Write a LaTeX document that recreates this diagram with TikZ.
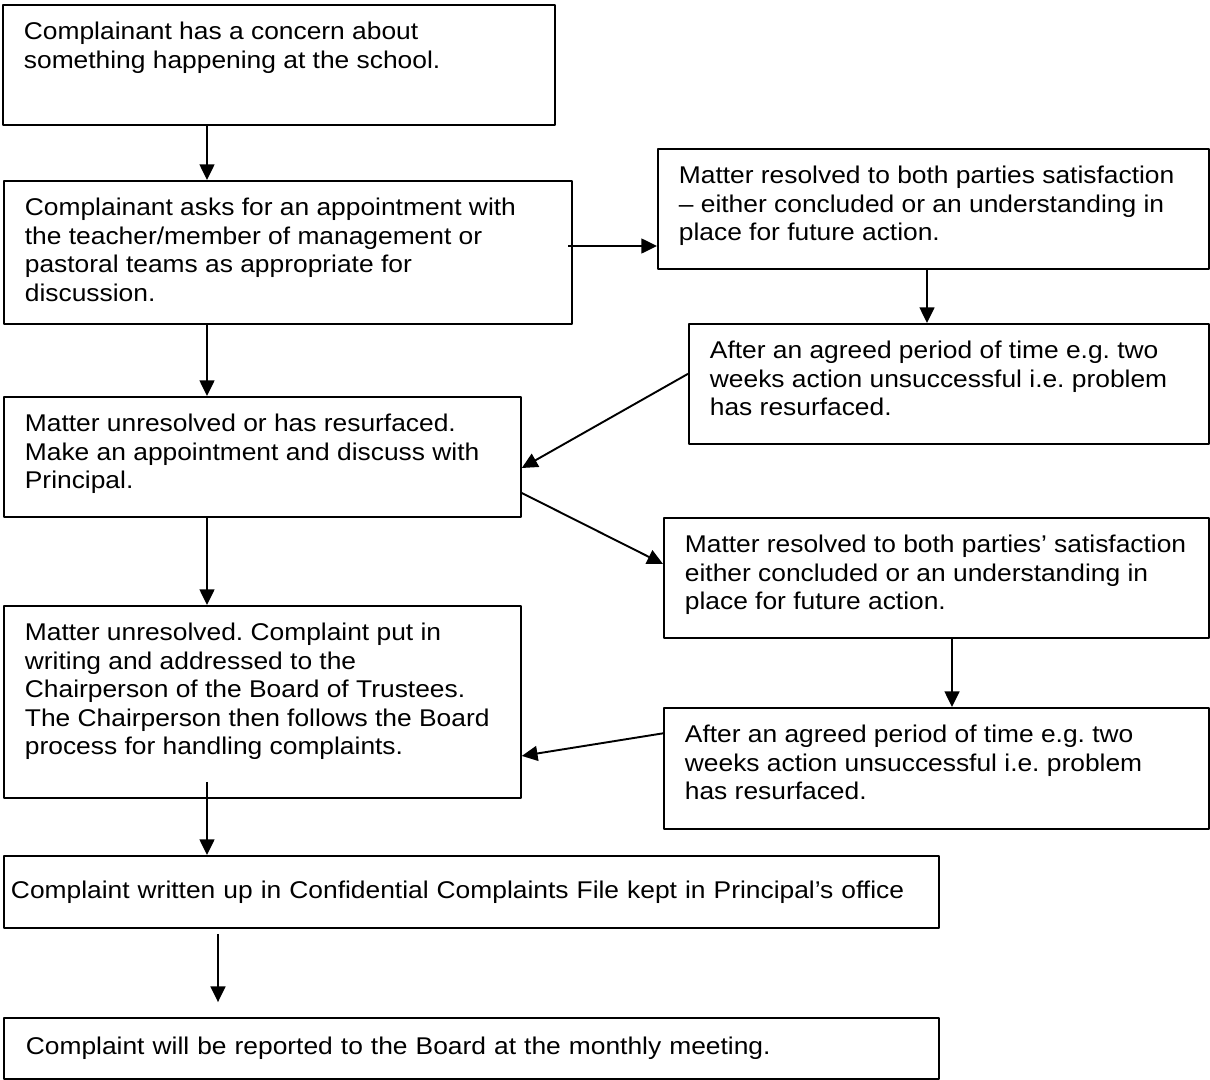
\documentclass[tikz,border=0pt]{standalone}
\usepackage{fontspec}
\setmainfont{Liberation Sans}[FakeStretch=1.09]
\usetikzlibrary{arrows.meta}

\newlength{\unitpx}\setlength{\unitpx}{0.496pt}
\newcommand{\stagetext}[3]{\parbox[t][\dimexpr#2\unitpx-34\unitpx\relax][t]{#1\unitpx}{\raggedright\leftskip=21\unitpx\relax #3}}

\begin{document}
\frenchspacing
\begin{tikzpicture}[x=0.496pt, y=-0.496pt, line join=round,
	font=\fontsize{12}{14.2}\selectfont,
	stage/.style={draw, line width=0.9pt, anchor=north west, inner xsep=0pt, inner ysep=8.43pt},
	wide/.style={draw, line width=0.9pt, anchor=north west, align=left},
	flow/.style={-{Triangle[length=7.8pt,width=7.4pt]}, line width=0.95pt}]
	\useasboundingbox (0,0) rectangle (1210,1080);
	
	% [Left column]
	\node[stage] (concern) at (2,4) {\stagetext{552}{120}{Complainant has a concern about\\something happening at the school.}};
	\node[stage] (meeting) at (3,180) {\stagetext{568}{143}{Complainant asks for an appointment with\\the teacher/member of management or\\pastoral teams as appropriate for\\discussion.}};
	\node[stage] (principal) at (3,396) {\stagetext{517}{120}{Matter unresolved or has resurfaced.\\Make an appointment and discuss with\\Principal.}};
	\node[stage] (board) at (3,605) {\stagetext{517}{192}{Matter unresolved. Complaint put in\\writing and addressed to the\\Chairperson of the Board of Trustees.\\The Chairperson then follows the Board\\process for handling complaints.}};
	\node[wide, minimum height=35.7pt, text width=456.8pt, inner xsep=3.5pt] (file) at (3,855) {Complaint written up in Confidential Complaints File kept in Principal’s office};
	\node[wide, minimum height=30.3pt, text width=441.9pt, inner xsep=10.9pt] (report) at (3,1017) {Complaint will be reported to the Board at the monthly meeting.};
	
	% [Right column]
	\node[stage] (resolvedA) at (657,148) {\stagetext{551}{120}{Matter resolved to both parties satisfaction\\– either concluded or an understanding in\\place for future action.}};
	\node[stage] (lapseA) at (688,323) {\stagetext{520}{120}{After an agreed period of time e.g. two\\weeks action unsuccessful i.e. problem\\has resurfaced.}};
	\node[stage] (resolvedB) at (663,517) {\stagetext{545}{120}{Matter resolved to both parties’ satisfaction\\either concluded or an understanding in\\place for future action.}};
	\node[stage] (lapseB) at (663,707) {\stagetext{545}{121}{After an agreed period of time e.g. two\\weeks action unsuccessful i.e. problem\\has resurfaced.}};
	
	% [Down the left side]
	\coordinate (colL) at (207,0);
	\coordinate (colI) at (218,0);
	\draw[flow] (concern.south -| colL) -- (meeting.north -| colL);
	\draw[flow] (meeting.south -| colL) -- (principal.north -| colL);
	\draw[flow] (principal.south -| colL) -- (board.north -| colL);
	\draw[flow, shorten <=-8.4pt] (board.south -| colL) -- (file.north -| colL);
	\draw[flow, shorten <=2.5pt, shorten >=7.4pt] (file.south -| colI) -- (report.north -| colI);
	
	% [Across and back]
	\coordinate (side) at (568,246);
	\coordinate (colC) at (927,0);
	\coordinate (colF) at (952,0);
	\draw[flow] (side) -- (side -| resolvedA.west);
	\draw[flow] (resolvedA.south -| colC) -- (lapseA.north -| colC);
	\draw[flow] ([yshift=5pt]lapseA.west) -- ([yshift=-5.5pt]principal.east);
	\draw[flow] ([yshift=-17.9pt]principal.east) -- ([yshift=6.9pt]resolvedB.west);
	\draw[flow] (resolvedB.south -| colF) -- (lapseB.north -| colF);
	\draw[flow] ([yshift=17.4pt]lapseB.west) -- ([yshift=-26.8pt]board.east);
\end{tikzpicture}
\end{document}
